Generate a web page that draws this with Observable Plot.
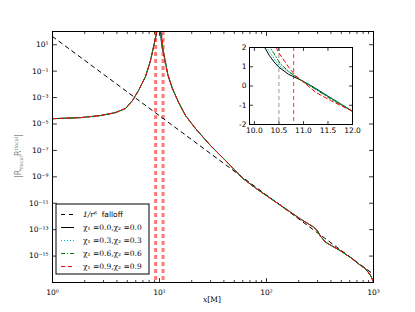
<!DOCTYPE html>
<html><head><meta charset="utf-8">
<script src="https://cdn.jsdelivr.net/npm/d3@7"></script>
<script src="https://cdn.jsdelivr.net/npm/@observablehq/plot@0.6"></script>
<style>
body{margin:0;background:#fff;}
#wrap{position:relative;width:415px;height:312px;overflow:hidden;}
#wrap svg{position:absolute;}
</style></head><body><div id="wrap"></div>
<script>
// ---------- data (log10 of |R R|) ----------
const leftX  = [1, 1.83, 2.81, 3.88, 4.81, 5.59, 6.36, 7.40, 8.24, 8.98, 9.45, 9.8];
const leftLg = [-4.6, -4.52, -4.36, -4.14, -3.83, -3.23, -2.47, -1.41, -0.20, 1.17, 2.0, 3.0];

const peak0X  = [10.0, 10.21, 10.3, 10.4, 10.5, 10.7, 10.95, 11.2, 11.48, 11.75, 12.0];
const peak0Lg = [3.0, 2.0, 1.6, 1.25, 0.97, 0.6, 0.3, -0.05, -0.5, -0.92, -1.31];
const peak3X  = [10.05, 10.25, 10.5, 10.95, 11.48, 12.0];
const peak3Lg = [3.0, 2.0, 1.05, 0.33, -0.48, -1.31];
const peak6X  = [10.1, 10.32, 10.53, 10.7, 10.9, 11.2, 11.54, 12.0];
const peak6Lg = [3.0, 2.0, 1.15, 0.75, 0.38, -0.1, -0.65, -1.32];
const peak9X  = [10.25, 10.45, 10.49, 10.6, 10.7, 10.84, 11.05, 11.25, 11.55, 11.9, 12.0];
const peak9Lg = [3.0, 2.0, 1.74, 1.35, 0.97, 0.53, 0.1, -0.33, -0.75, -1.19, -1.3];

const tailX  = [13.2, 15.1, 17.5, 21.7, 30.0, 41.4, 59.7, 78.9, 135, 208, 275, 300, 320, 356, 492, 620, 756, 850, 937, 1000];
const tailLg = [-2.32, -3.38, -4.36, -5.35, -6.64, -7.77, -9.1, -9.85, -11.15, -12.2, -12.8, -13.1, -13.5, -13.95, -14.6, -15.15, -15.7, -16.0, -16.45, -16.95];

const falloffX  = [1, 1000];
const falloffLg = [1.62, -16.38];

const mainRules = [9.2, 10.8];
const insetGray = [10.5];
const insetRed  = [10.8];

const seriesNames = ["chi0", "chi3", "chi6", "chi9"];
const legendLabels = ["1/r⁶", "χ₁ =0.0,χ₂ =0.0", "χ₁ =0.3,χ₂ =0.3", "χ₁ =0.6,χ₂ =0.6", "χ₁ =0.9,χ₂ =0.9"];

const xMajor = [1, 10, 100, 1000];
const yExp = [1, -1, -3, -5, -7, -9, -11, -13, -15];
const insetXTicks = [10.0, 10.5, 11.0, 11.5, 12.0];
const insetYTicks = [2, 1, 0, -1, -2];

// ---------- helpers ----------
const zip = (xs, ys, s) => xs.map((x, i) => ({series: s, x, lg: ys[i]}));
const peaks = {chi0: [peak0X, peak0Lg], chi3: [peak3X, peak3Lg], chi6: [peak6X, peak6Lg], chi9: [peak9X, peak9Lg]};
const mainRows = s => [...zip(leftX, leftLg, s), ...zip(peaks[s][0], peaks[s][1], s), ...zip(tailX, tailLg, s)];
const insetRows = s => zip(peaks[s][0], peaks[s][1], s);
const falloffRows = zip(falloffX, falloffLg, "falloff");

const styles = {
  chi0: {stroke: "black", strokeWidth: 1},
  chi3: {stroke: "#00bfbf", strokeWidth: 1, strokeDasharray: "1,2"},
  chi6: {stroke: "#008000", strokeWidth: 1, strokeDasharray: "4,2,1,2"},
  chi9: {stroke: "#ff0000", strokeWidth: 1, strokeDasharray: "4,3"}
};

const supMap = {"-": "⁻", "0": "⁰", "1": "¹", "2": "²", "3": "³", "4": "⁴", "5": "⁵", "6": "⁶", "7": "⁷", "8": "⁸", "9": "⁹"};
const pow10 = e => "10" + String(e).split("").map(c => supMap[c]).join("");

const tickShape = {draw(ctx, l) { ctx.moveTo(0, 0); ctx.lineTo(0, -l); }};
const vt = (data, ch, anchor, rotate, len) =>
  Plot.vector(data, {[ch]: d => d, frameAnchor: anchor, rotate, length: len, anchor: "start",
    shape: tickShape, stroke: "black", strokeWidth: 0.8});

const xMinor = [];
[1, 10, 100].forEach(d => { for (let k = 2; k <= 9; k++) xMinor.push(d * k); });
const yMajor = yExp.map(e => 10 ** e);

// ---------- main plot ----------
const main = Plot.plot({
  width: 415, height: 312,
  marginLeft: 52, marginTop: 31, marginRight: 42, marginBottom: 30,
  style: {fontFamily: "DejaVu Sans", fontSize: "7.5px", background: "transparent", color: "black"},
  x: {type: "log", domain: [1, 1000]},
  y: {type: "log", domain: [1e-17, 1e2]},
  marks: [
    Plot.ruleX(mainRules, {stroke: "#ff3030", strokeOpacity: 0.65, strokeWidth: 3, strokeDasharray: "4,3"}),
    Plot.line(falloffRows, {x: "x", y: d => 10 ** d.lg, stroke: "black", strokeWidth: 1, strokeDasharray: "4,4", clip: true}),
    ...seriesNames.map(s => Plot.line(mainRows(s), {x: "x", y: d => 10 ** d.lg, ...styles[s], clip: true})),
    Plot.frame({stroke: "black", strokeWidth: 1}),
    Plot.axisX({ticks: xMajor, tickFormat: v => pow10(Math.round(Math.log10(v))), tickSize: 0, tickPadding: 7, label: null}),
    Plot.axisY({ticks: yMajor, tickFormat: v => pow10(Math.round(Math.log10(v))), tickSize: 0, tickPadding: 4, label: null}),
    vt(xMajor, "x", "bottom", 0, 4), vt(xMinor, "x", "bottom", 0, 2),
    vt(xMajor, "x", "top", 180, 4), vt(xMinor, "x", "top", 180, 2),
    vt(yMajor, "y", "left", 90, 4), vt(yMajor, "y", "right", -90, 4)
  ]
});

// ---------- inset ----------
const inset = Plot.plot({
  width: 136, height: 97,
  marginLeft: 20, marginTop: 5, marginRight: 13, marginBottom: 15,
  style: {fontFamily: "DejaVu Sans", fontSize: "7.5px", background: "transparent", color: "black"},
  x: {domain: [9.9, 12.0]},
  y: {domain: [-2, 2]},
  marks: [
    Plot.frame({fill: "white", stroke: "none"}),
    Plot.ruleX(insetGray, {stroke: "#808080", strokeWidth: 0.8, strokeDasharray: "4,3"}),
    Plot.ruleX(insetRed, {stroke: "#ff0000", strokeWidth: 0.8, strokeDasharray: "4,3"}),
    ...seriesNames.map(s => Plot.line(insetRows(s), {x: "x", y: "lg", ...styles[s], clip: true})),
    Plot.frame({stroke: "black", strokeWidth: 1}),
    Plot.axisX({ticks: insetXTicks, tickFormat: v => v.toFixed(1), tickSize: 0, tickPadding: 3, label: null}),
    Plot.axisY({ticks: insetYTicks, tickFormat: v => String(v), tickSize: 0, tickPadding: 3, label: null}),
    vt(insetXTicks, "x", "bottom", 0, 3), vt(insetXTicks, "x", "top", 180, 3),
    vt(insetYTicks, "y", "left", 90, 3), vt(insetYTicks, "y", "right", -90, 3)
  ]
});

const wrap = document.getElementById("wrap");
main.style.left = "0px"; main.style.top = "0px";
inset.style.left = "229px"; inset.style.top = "42px";
wrap.appendChild(main);
wrap.appendChild(inset);

// ---------- axis labels & legend ----------
const svg = d3.select(main);
const yl = svg.append("text").attr("transform", "translate(21,156) rotate(-90)")
  .attr("text-anchor", "middle").attr("fill", "#888").attr("font-size", "8px").attr("font-family", "DejaVu Sans");
yl.append("tspan").text("|R");
yl.append("tspan").attr("font-size", "5px").attr("dy", "1.5").text("tlocal");
yl.append("tspan").attr("dy", "-1.5").text("R");
yl.append("tspan").attr("font-size", "5px").attr("dy", "-3").text("tlocal");
yl.append("tspan").attr("dy", "3").text("|");

const xl = svg.append("text").attr("x", 212).attr("y", 302).attr("text-anchor", "middle")
  .attr("font-size", "7.5px").attr("font-family", "DejaVu Serif");
xl.append("tspan").attr("font-style", "italic").text("x");
xl.append("tspan").text("[M]");

const lg = svg.append("g").attr("text-anchor", "start");
lg.append("rect").attr("x", 56).attr("y", 204).attr("width", 93).attr("height", 70)
  .attr("fill", "white").attr("stroke", "black").attr("stroke-width", 1);
const legStyles = [{stroke: "black", strokeDasharray: "4,4"}, styles.chi0, styles.chi3, styles.chi6, styles.chi9];
legendLabels.forEach((t, i) => {
  const y = 214.5 + i * 13;
  const st = legStyles[i];
  lg.append("line").attr("x1", 61).attr("x2", 74).attr("y1", y).attr("y2", y)
    .attr("stroke", st.stroke).attr("stroke-width", 1).attr("stroke-dasharray", st.strokeDasharray || null);
  const tx = lg.append("text").attr("x", 83).attr("y", y + 2.7).attr("text-anchor", "start")
    .attr("font-size", "7.5px").attr("font-family", "DejaVu Serif");
  if (i === 0) {
    tx.append("tspan").attr("font-style", "italic").text(t);
    tx.append("tspan").attr("font-family", "DejaVu Sans").text("  falloff");
  } else {
    tx.text(t);
  }
});
</script>
</body></html>
